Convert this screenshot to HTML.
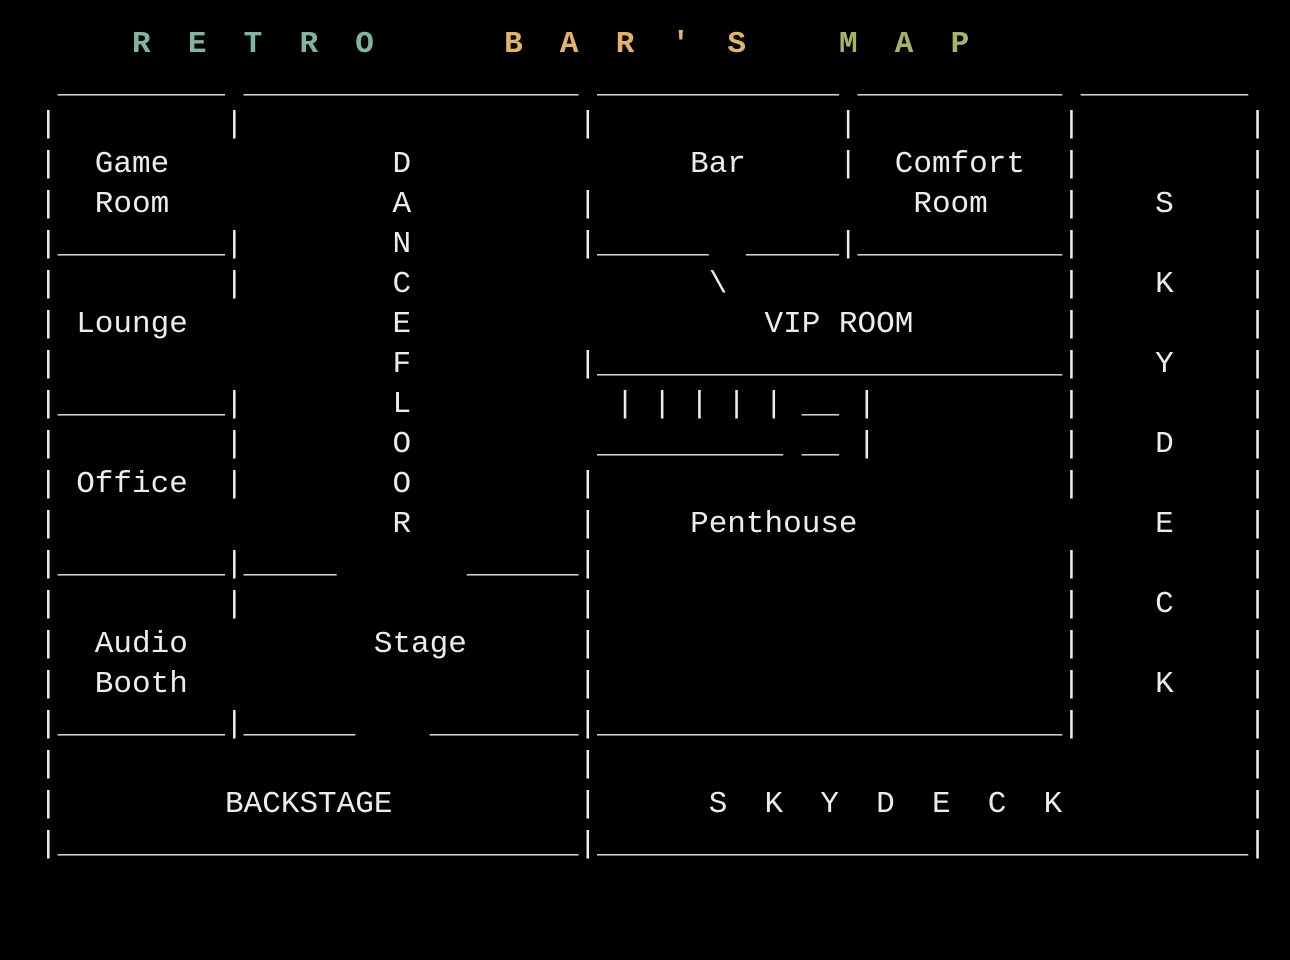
<!DOCTYPE html>
<html><head><meta charset="utf-8"><style>
html,body{margin:0;padding:0;background:#000;width:1290px;height:960px;overflow:hidden}
pre{position:absolute;left:39px;top:25px;margin:0;font-family:"Liberation Mono","DejaVu Sans Mono",monospace;font-size:31px;line-height:40px;color:#ececec;font-weight:normal}
.t{color:#7fb5a8;font-weight:bold}.b{color:#e3b465;font-weight:bold}.m{color:#a9b460;font-weight:bold}
</style></head><body>
<pre>     <span class="t">R  E  T  R  O</span>       <span class="b">B  A  R  '  S</span>     <span class="m">M  A  P</span>
 _________ __________________ _____________ ___________ _________
|         |                  |             |           |         |
|  Game            D               Bar     |  Comfort  |         |
|  Room            A         |                 Room    |    S    |
|_________|        N         |______  _____|___________|         |
|         |        C                \                  |    K    |
| Lounge           E                   VIP ROOM        |         |
|                  F         |_________________________|    Y    |
|_________|        L           | | | | | __ |          |         |
|         |        O          __________ __ |          |    D    |
| Office  |        O         |                         |         |
|                  R         |     Penthouse                E    |
|_________|_____       ______|                         |         |
|         |                  |                         |    C    |
|  Audio          Stage      |                         |         |
|  Booth                     |                         |    K    |
|_________|______    ________|_________________________|         |
|                            |                                   |
|         BACKSTAGE          |      S  K  Y  D  E  C  K          |
|____________________________|___________________________________|
</pre>
</body></html>
